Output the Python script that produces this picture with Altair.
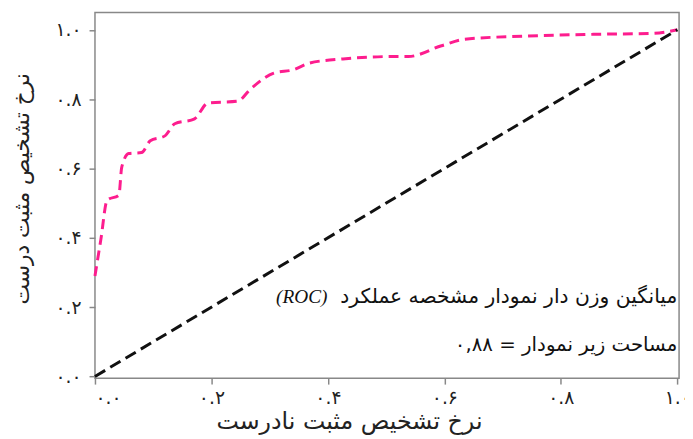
import altair as alt
import pandas as pd

# ROC curve (false positive rate, true positive rate)
fpr = [0.0, 0.010, 0.021, 0.041, 0.046, 0.058, 0.080, 0.095, 0.120, 0.137, 0.171,
       0.194, 0.245, 0.267, 0.307, 0.341, 0.368, 0.426, 0.511, 0.538, 0.595, 0.635,
       0.742, 0.856, 0.958, 1.0]
tpr = [0.29, 0.394, 0.509, 0.523, 0.604, 0.643, 0.646, 0.680, 0.694, 0.729, 0.743,
       0.789, 0.794, 0.829, 0.875, 0.885, 0.904, 0.916, 0.923, 0.923, 0.954, 0.973,
       0.982, 0.987, 0.990, 1.0]

diag_x = [0.0, 1.0]
diag_y = [0.0, 1.0]

tick_values = [0.0, 0.2, 0.4, 0.6, 0.8, 1.0]
tick_labels = ["۰.۰", "۰.۲", "۰.۴", "۰.۶", "۰.۸", "۱.۰"]

x_title = "نرخ تشخیص مثبت نادرست"
y_title = "نرخ تشخیص مثبت درست"

note_line1 = ["میانگین وزن دار نمودار مشخصه عملکرد"]
note_line2 = ["مساحت زیر نمودار = ۰,۸۸"]
note_x = [1.0]
note1_y = [0.229]
note2_y = [0.091]
roc_text = ["(ROC)"]
roc_x = [0.311]
roc_y = [0.229]

label_expr = " : ".join(
    f"format(datum.value, '.1f') == '{v:.1f}' ? '{l}'" for v, l in zip(tick_values, tick_labels)
) + " : ''"

roc_df = pd.DataFrame({"fpr": fpr, "tpr": tpr})
diag_df = pd.DataFrame({"fpr": diag_x, "tpr": diag_y})
note1_df = pd.DataFrame({"x": note_x, "y": note1_y, "t": note_line1})
note2_df = pd.DataFrame({"x": note_x, "y": note2_y, "t": note_line2})
roc_lbl_df = pd.DataFrame({"x": roc_x, "y": roc_y, "t": roc_text})

FONT = "DejaVu Sans"

xscale = alt.Scale(domain=[0, 1.003], nice=False, zero=False)
yscale = alt.Scale(domain=[-0.005, 1.05], nice=False, zero=False)

xaxis = alt.Axis(values=tick_values, labelExpr=label_expr, title=x_title, grid=False,
                 domain=False, tickSize=6, tickColor="#888", tickWidth=1.5,
                 labelPadding=5, labelFontSize=19, labelColor="#222", labelFont=FONT,
                 titleFont=FONT, titleFontSize=24, titleFontWeight="normal", titleColor="#222",
                 titleX=257, titleY=32, titleBaseline="top")
yaxis = alt.Axis(values=tick_values, labelExpr=label_expr, title=y_title, grid=False,
                 domain=False, tickSize=6, tickColor="#888", tickWidth=1.5,
                 labelPadding=8, labelFontSize=19, labelColor="#222", labelFont=FONT,
                 titleFont=FONT, titleFontSize=22, titleFontWeight="normal", titleColor="#222",
                 titleX=-84, titleY=178, titleBaseline="top")

base_x = alt.X("fpr:Q", scale=xscale, axis=xaxis)
base_y = alt.Y("tpr:Q", scale=yscale, axis=yaxis)

roc = alt.Chart(roc_df).mark_line(color="#fd1d8e", strokeWidth=3, strokeDash=[10, 6],
                                  interpolate="monotone").encode(x=base_x, y=base_y, order="fpr:Q")
diag = alt.Chart(diag_df).mark_line(color="#111111", strokeWidth=3, strokeDash=[12, 6]).encode(
    x=alt.X("fpr:Q", scale=xscale), y=alt.Y("tpr:Q", scale=yscale))

note1 = alt.Chart(note1_df).mark_text(align="right", baseline="middle", font=FONT, fontSize=20.5,
                                      color="#111").encode(
    x=alt.X("x:Q", scale=xscale), y=alt.Y("y:Q", scale=yscale), text="t:N")
note2 = alt.Chart(note2_df).mark_text(align="right", baseline="middle", font=FONT, fontSize=20,
                                      color="#111").encode(
    x=alt.X("x:Q", scale=xscale), y=alt.Y("y:Q", scale=yscale), text="t:N")
roc_lbl = alt.Chart(roc_lbl_df).mark_text(align="left", baseline="middle", font="Liberation Serif",
                                          fontStyle="italic", fontSize=19.5, color="#111").encode(
    x=alt.X("x:Q", scale=xscale), y=alt.Y("y:Q", scale=yscale), text="t:N")

chart = alt.layer(roc, diag, note1, note2, roc_lbl).properties(
    width=591, height=370,
    autosize=alt.AutoSizeParams(type="none"),
    padding={"left": 88, "top": 2, "right": 6, "bottom": 59},
).configure_view(stroke="#888", strokeWidth=1.5)

chart.save("out.html", embed_options={"renderer": "svg", "actions": False})
